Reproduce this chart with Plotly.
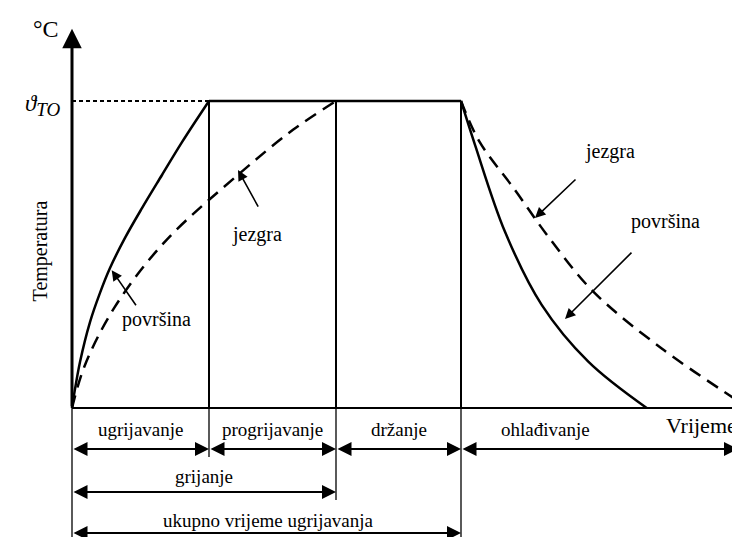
import plotly.graph_objects as go

# vrijeme (t) i temperatura (T), theta_TO = 100
theta_to = 100
granice = [0, 13.7, 26.4, 38.9]   # ugrijavanje / progrijavanje / drzanje / ohladivanje
t_kraj = 66.8

# grijanje - povrsina
t_pov_grij = [0, 0.2, 0.8, 1.8, 2.8, 3.8, 5.3, 7.0, 9.0, 11.0, 13.7]
T_pov_grij = [0, 4.2, 15.0, 28.0, 37.5, 45.6, 55.4, 65.1, 75.9, 86.6, 100]
# grijanje - jezgra
t_jez_grij = [0, 1.3, 4.3, 9.3, 16.8, 22.1, 26.4]
T_jez_grij = [0, 14.0, 33.0, 54.2, 76.5, 90.6, 100]
# hladjenje - povrsina
t_pov_hl = [38.9, 40.3, 43.3, 46.97, 51.63, 57.47]
T_pov_hl = [100, 85.7, 57.4, 33.6, 15.1, 0]
# hladjenje - jezgra
t_jez_hl = [38.9, 40.7, 44.3, 47.63, 52.13, 58.97, 66.47]
T_jez_hl = [100, 87.0, 71.0, 55.8, 37.9, 19.4, 2.6]

faze = ['ugrijavanje', 'progrijavanje', 'držanje', 'ohlađivanje']

FONT = 'Times New Roman, Liberation Serif, serif'

fig = go.Figure()
for tx, ty, crtica in [(t_pov_grij, T_pov_grij, 'solid'), (t_jez_grij, T_jez_grij, '13px,8px'),
                       (t_pov_hl, T_pov_hl, 'solid'), (t_jez_hl, T_jez_hl, '13px,8px')]:
    fig.add_trace(go.Scatter(x=tx, y=ty, mode='lines',
                             line=dict(color='black', width=2.5, shape='spline', smoothing=1.0,
                                       dash=crtica)))
# drzanje na theta_TO
fig.add_trace(go.Scatter(x=[granice[1], granice[3]], y=[theta_to, theta_to], mode='lines',
                         line=dict(color='black', width=2.5)))
fig.add_trace(go.Scatter(x=[0, granice[1]], y=[theta_to, theta_to], mode='lines',
                         line=dict(color='black', width=2, dash='4px,3px')))

shapes = []
# x os
shapes.append(dict(type='line', xref='x', yref='y', x0=0, x1=t_kraj + 1, y0=0, y1=0,
                   line=dict(color='black', width=1.8)))
# vertikalne granice faza iznad osi
for g in granice[1:]:
    shapes.append(dict(type='line', xref='x', yref='y', x0=g, x1=g, y0=0, y1=theta_to,
                       line=dict(color='black', width=2)))
# vertikalne crte ispod osi
dno = {0: -45, granice[1]: -16, granice[2]: -30, granice[3]: -45}
for g, y_dno in dno.items():
    shapes.append(dict(type='line', xref='x', yref='y', x0=g, x1=g, y0=0, y1=y_dno,
                       line=dict(color='black', width=1.3)))

ann = []
# y os sa strelicom
ann.append(dict(x=0, y=123.5, ax=0, ay=0, xref='x', yref='y', axref='x', ayref='y', text='',
                showarrow=True, arrowhead=2, arrowsize=1.3, arrowwidth=3, arrowcolor='black'))

def dvostrelica(x0, x1, y):
    return dict(x=x1, y=y, ax=x0, ay=y, xref='x', yref='y', axref='x', ayref='y', text='',
                showarrow=True, arrowhead=2, startarrowhead=2, arrowside='end+start',
                arrowsize=1.4, startarrowsize=1.4, arrowwidth=2, arrowcolor='black')

def tekst(x, y, s, size=16, **kw):
    return dict(x=x, y=y, xref='x', yref='y', text=s, showarrow=False,
                font=dict(family=FONT, size=size, color='black'), **kw)

kraj_faza = granice[1:] + [t_kraj - 0.2]
for i, naziv in enumerate(faze):
    ann.append(dvostrelica(granice[i], kraj_faza[i], -13.4))
    xc = (granice[i] + kraj_faza[i]) / 2
    if i == 3:
        xc = 47.3
    ann.append(tekst(xc, -7.0, naziv, size=19))
ann.append(tekst(62.9, -5.6, 'Vrijeme', size=22))

ann.append(dvostrelica(0, granice[2], -27.4))
ann.append(tekst(granice[2] / 2, -22.3, 'grijanje', size=19))
ann.append(dvostrelica(0, granice[3], -40.7))
ann.append(tekst(19.6, -36.6, 'ukupno vrijeme ugrijavanja', size=19))

ann.append(tekst(-2.6, 123.5, '°C', size=24))
ann.append(tekst(-2.9, 98.5, '<i>ϑ<sub><span style="font-size:19px">TO</span></sub></i>', size=23))
ann.append(tekst(-3.2, 51, 'Temperatura', size=20, textangle=-90))

# oznake krivulja
def strelica(xh, yh, xt, yt):
    return dict(x=xh, y=yh, ax=xt, ay=yt, xref='x', yref='y', axref='x', ayref='y', text='',
                showarrow=True, arrowhead=2, arrowsize=1.3, arrowwidth=1.6, arrowcolor='black')

ann.append(strelica(3.97, 44.9, 6.5, 33.0))
ann.append(tekst(8.4, 28.7, 'površina', size=20))
ann.append(strelica(16.6, 77.5, 18.7, 65.1))
ann.append(tekst(18.5, 56.4, 'jezgra', size=20))
ann.append(strelica(46.3, 61.9, 50.5, 74.9))
ann.append(tekst(53.8, 83.4, 'jezgra', size=20))
ann.append(strelica(49.3, 29.0, 56.1, 51.1))
ann.append(tekst(59.3, 60.6, 'površina', size=20))

fig.update_layout(
    width=740, height=537,
    margin=dict(l=0, r=0, t=0, b=0),
    paper_bgcolor='white', plot_bgcolor='white',
    showlegend=False,
    xaxis=dict(range=[-6.4, 67.6], visible=False, fixedrange=True),
    yaxis=dict(range=[-44.63, 130.29], visible=False, fixedrange=True),
    shapes=shapes, annotations=ann,
)

fig.write_html("out.html")
